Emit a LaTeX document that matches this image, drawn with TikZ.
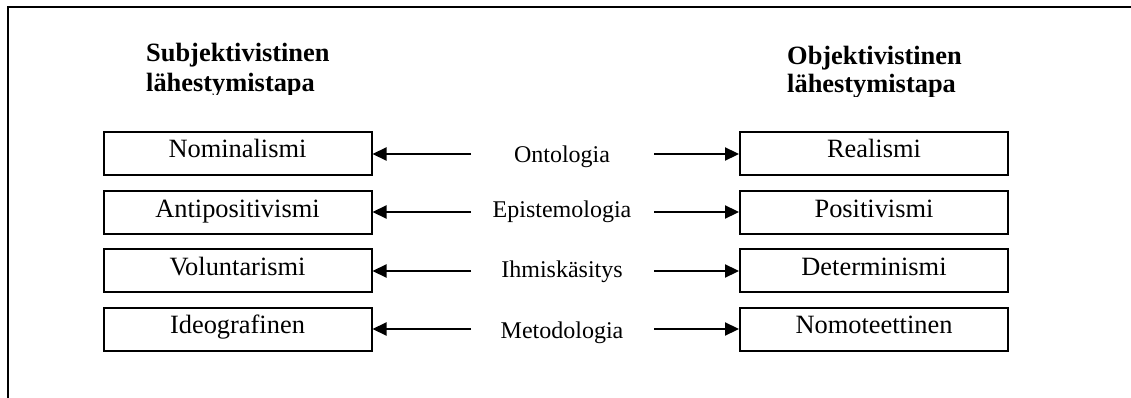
\documentclass[tikz,border=0pt]{standalone}
\usepackage{fontspec}
\setmainfont{Liberation Serif}
\usetikzlibrary{arrows.meta}

\begin{document}
\begin{tikzpicture}[x=1pt,y=-1pt,
  frameline/.style={line width=2.4pt},
  termbox/.style={draw, line width=2pt, minimum width=268pt, minimum height=43pt,
    inner sep=0pt, text height=15pt, text depth=6pt,
    font=\fontsize{26.4}{30}\selectfont},
  dimlabel/.style={anchor=base, inner sep=0pt, font=\fontsize{24}{28}\selectfont},
  heading/.style={anchor=base west, align=left, inner sep=0pt},
  pointer/.style={line width=2.2pt, -{Triangle[length=14pt,width=13pt]}}]

\useasboundingbox (0,0) rectangle (1131,398);
\fill[white] (0,0) rectangle (1131,398);

% open frame: top and left edges only
\draw[frameline] (1131,7) -- (8,7) -- (8,398);

% column headings (anchored at the second line), cut off just below it
\begin{scope}
  \clip (0,0) rectangle (600,94.5);
  \node[heading, font=\bfseries\fontsize{26.4}{30}\selectfont] (hs) at (146,92)
    {Subjektivistinen\\lähestymistapa};
\end{scope}
\begin{scope}
  \clip (600,0) rectangle (1131,97);
  \node[heading, font=\bfseries\fontsize{26.4}{28}\selectfont] (ho) at (787,93)
    {Objektivistinen\\lähestymistapa};
\end{scope}

% subjective positions
\node[termbox] (L1) at (237.5,153.5) {Nominalismi};
\node[termbox] (L2) at (237.5,212.5) {Antipositivismi};
\node[termbox] (L3) at (237.5,270.5) {Voluntarismi};
\node[termbox] (L4) at (237.5,329)   {Ideografinen};

% objective positions
\node[termbox] (R1) at (874,153.5) {Realismi};
\node[termbox] (R2) at (874,212.5) {Positivismi};
\node[termbox] (R3) at (874,270.5) {Determinismi};
\node[termbox] (R4) at (874,329)   {Nomoteettinen};

% dimensions in the middle
\node[dimlabel] (M1) at (562,163) {Ontologia};
\node[dimlabel] (M2) at (562,217.5) {Epistemologia};
\node[dimlabel] (M3) at (562,277) {Ihmiskäsitys};
\node[dimlabel] (M4) at (562,338) {Metodologia};

% arrow tails on either side of the labels
\foreach \i/\y in {1/154,2/212,3/271,4/329}{
  \coordinate (a\i) at (471,\y);
  \coordinate (b\i) at (654,\y);
  \draw[pointer] (a\i) -- (a\i -| L\i.east);
  \draw[pointer] (b\i) -- (b\i -| R\i.west);
}
\end{tikzpicture}
\end{document}
